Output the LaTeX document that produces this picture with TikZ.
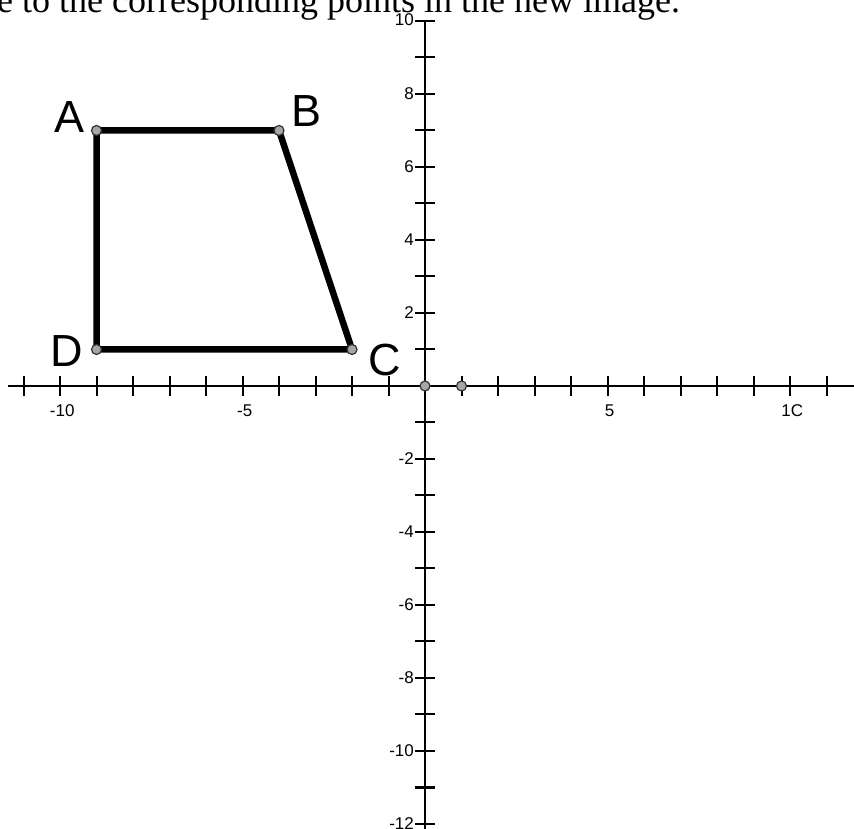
\documentclass[tikz,border=0pt]{standalone}
\usepackage{fontspec}
\setmainfont{Liberation Serif}
\newfontfamily\arialf{Liberation Sans}
\begin{document}
\begin{tikzpicture}[x=36.5pt,y=36.5pt,
  axisline/.style={line width=2.4pt},
  tickmark/.style={line width=2pt},
  shapeline/.style={line width=6.5pt, line join=round},
  vtx/.style={circle, draw=black!80, fill=gray!70, line width=1.2pt, minimum size=10pt, inner sep=0pt},
  ticklab/.style={font=\arialf\fontsize{17pt}{17pt}\selectfont, inner sep=0pt},
  ptlab/.style={font=\arialf\fontsize{45pt}{45pt}\selectfont, inner sep=0pt, anchor=base}]
\useasboundingbox (-11.644,-12.137) rectangle (11.753,10.575);
\clip (-11.644,-12.137) rectangle (11.753,10.575);
\node[anchor=base west, inner sep=0pt, font=\fontsize{36pt}{40pt}\selectfont] (title) at (-11.726,10.219) {e to the corresponding points in the new image.};
% axes
\coordinate (xl) at (-11.43,0);
\coordinate (xr) at (11.9,0);
\coordinate (yt) at (0,10);
\coordinate (yb) at (0,-12.3);
\draw[axisline] (xl) -- (xr);
\draw[axisline] (yb) -- (yt);
\foreach \i in {-11,...,-1,1,2,...,11} \draw[tickmark] (\i,-0.274) -- (\i,0.274);
\foreach \j in {-12,...,-1,1,2,...,10} \draw[tickmark] (-0.274,\j) -- (0.274,\j);
% tick labels
\foreach \v/\t in {-10/-10,-5/-5,5/5,10/1C} \node[ticklab, anchor=north] (xt\v) at (\v+0.06,-0.5) {\t};
\foreach \v in {8,6,4,2,-2,-4,-6,-8,-10} \node[ticklab, anchor=east] (yt\v) at (-0.3,\v) {\v};
\node[ticklab, anchor=east] (yt10) at (-0.3,10.03) {10};
\node[ticklab, anchor=east] (yt-12) at (-0.3,-11.98) {-12};
% quadrilateral
\coordinate (A) at (-9,7);
\coordinate (B) at (-4,7);
\coordinate (C) at (-2,1);
\coordinate (D) at (-9,1);
\coordinate (O) at (0,0);
\coordinate (P) at (1,0);
\draw[shapeline] (A) -- (B) -- (C) -- (D) -- cycle;
\foreach \p in {A,B,C,D,O,P} \node[vtx] (m\p) at (\p) {};
% letters
\node[ptlab] (lA) at (-9.726,6.932) {A};
\node[ptlab] (lB) at (-3.233,7.096) {B};
\node[ptlab] (lC) at (-1.096,0.274) {C};
\node[ptlab] (lD) at (-9.808,0.521) {D};
\end{tikzpicture}
\end{document}
